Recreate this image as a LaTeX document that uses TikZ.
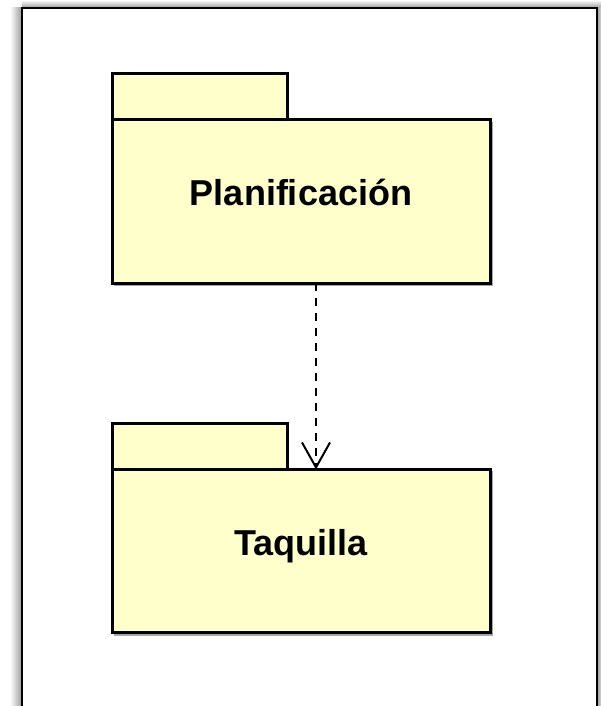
\documentclass[tikz,border=0pt]{standalone}
\usepackage{fontspec}
\setmainfont{Liberation Sans}
\usetikzlibrary{arrows.meta,positioning}
\definecolor{pkgfill}{HTML}{FFFFCC}
\begin{document}
\begin{tikzpicture}[x=1pt, y=-1pt,
  pkgbody/.style={draw, line width=3pt, fill=pkgfill, minimum width=378pt, minimum height=163pt, inner sep=0pt, outer sep=0pt, text height=26pt, text depth=18pt, font=\bfseries\fontsize{36}{40}\selectfont},
  pkgtab/.style={draw, line width=3pt, fill=pkgfill, minimum width=175pt, minimum height=46pt, inner sep=0pt, outer sep=0pt},
  pkgshadow/.style={fill=gray!70}]
\useasboundingbox (0,0) rectangle (601,706);
% frame and its shadow
\shade[left color=white, right color=gray!80] (10,8) rectangle (22,706);
\shade[top color=white, bottom color=gray!80] (22,0) rectangle (601,8);
\shade[left color=gray!70, right color=gray!30] (598,8) rectangle (601,706);
\fill[white] (22,8) rectangle (597,706);
\draw[line width=2.5pt] (22,710) -- (22,8) -- (597,8) -- (597,710);
% shadows of the packages
\fill[pkgshadow] (114,122) rectangle (493,286);
\fill[pkgshadow] (114,471) rectangle (493,636);
     \node[pkgbody] (plan) at (301,201.5) {Planificación};
     \node[pkgtab, above right=0pt of plan.north west, anchor=south west] (plantab) {};
     \node[pkgbody] (taq) at (301,551) {Taquilla};
     \node[pkgtab, above right=0pt of taq.north west, anchor=south west] (taqtab) {};
\draw[line width=2pt, dash pattern=on 8pt off 7pt, -{Straight Barb[length=25pt, width=28pt, line width=2pt]}] ([xshift=15pt]plan.south) -- ([xshift=15pt]taq.north);
\end{tikzpicture}
\end{document}
